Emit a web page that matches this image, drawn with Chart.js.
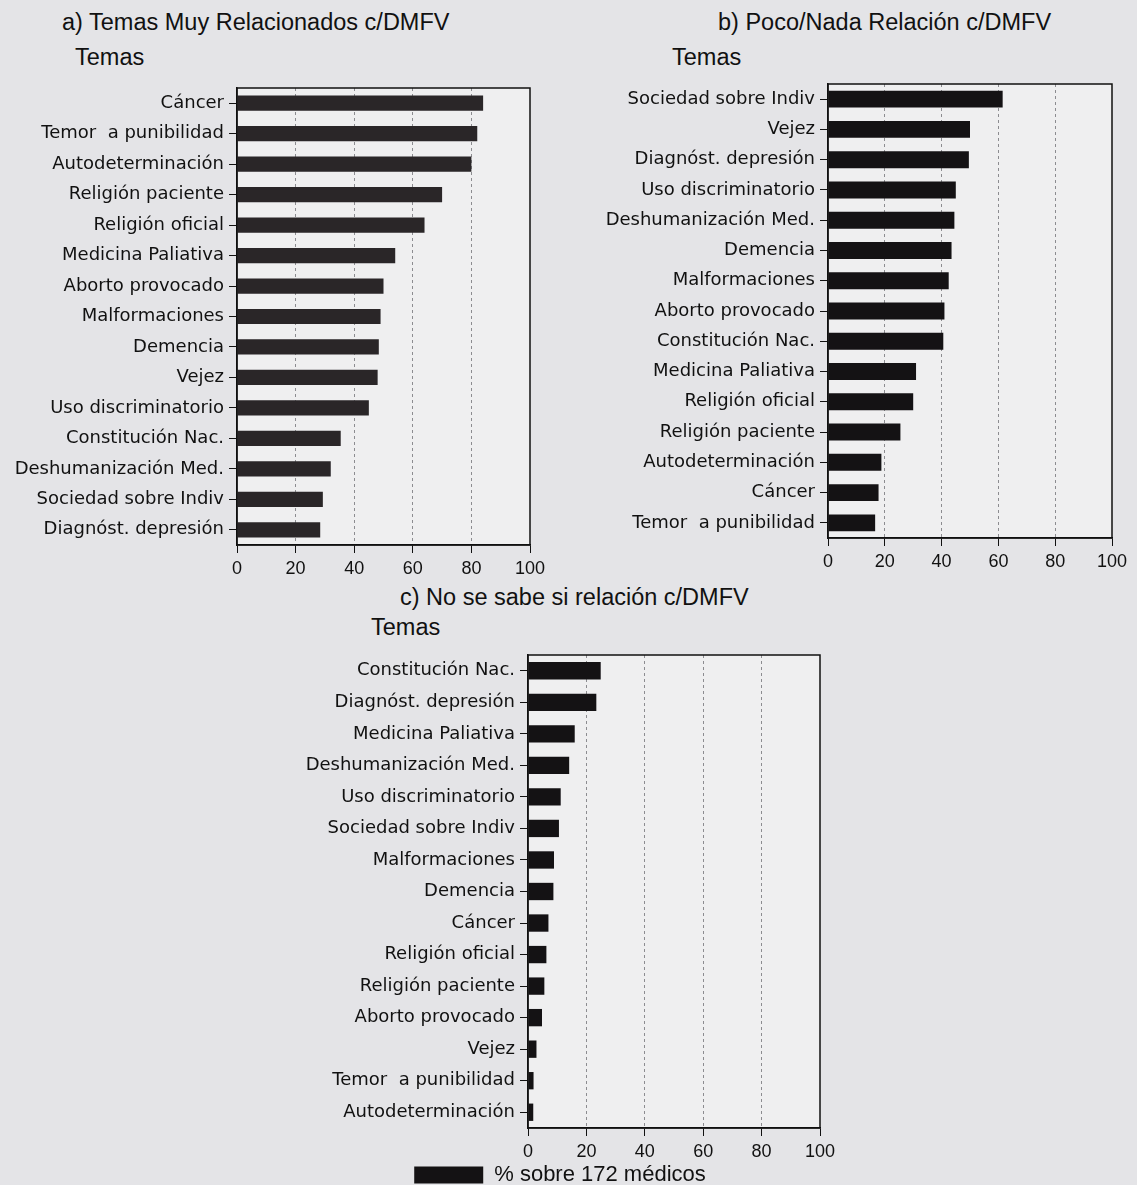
<!DOCTYPE html>
<html>
<head>
<meta charset="utf-8">
<script src="https://cdn.jsdelivr.net/npm/chart.js@4.4.1/dist/chart.umd.min.js"></script>
<style>
  body { margin: 0; background: #e4e4e7; width: 1137px; height: 1185px; position: relative; overflow: hidden; font-family: "Liberation Sans", Arial, sans-serif; color: #111; }
  canvas { position: absolute; }
  .txt { position: absolute; white-space: nowrap; font-size: 23.5px; line-height: 26px; }
</style>
</head>
<body>
<div class="txt" style="left:62px;top:9px;">a) Temas Muy Relacionados c/DMFV</div>
<div class="txt" style="left:75px;top:44px;">Temas</div>
<div class="txt" style="left:718px;top:9px;">b) Poco/Nada Relación c/DMFV</div>
<div class="txt" style="left:672px;top:44px;">Temas</div>
<div class="txt" style="left:400px;top:584px;">c) No se sabe si relación c/DMFV</div>
<div class="txt" style="left:371px;top:614px;">Temas</div>

<canvas id="chartA" width="560" height="590" style="left:0;top:0"></canvas>
<canvas id="chartB" width="557" height="590" style="left:580px;top:0"></canvas>
<canvas id="chartC" width="550" height="616" style="left:300px;top:580px"></canvas>

<script>
// a) temas muy relacionados
const temasA = ['Cáncer', 'Temor  a punibilidad', 'Autodeterminación', 'Religión paciente', 'Religión oficial',
  'Medicina Paliativa', 'Aborto provocado', 'Malformaciones', 'Demencia', 'Vejez',
  'Uso discriminatorio', 'Constitución Nac.', 'Deshumanización Med.', 'Sociedad sobre Indiv', 'Diagnóst. depresión'];
const valoresA = [84, 82, 80, 70, 64, 54, 50, 49, 48.4, 48, 45, 35.4, 32, 29.3, 28.4];

// b) poco / nada relación
const temasB = ['Sociedad sobre Indiv', 'Vejez', 'Diagnóst. depresión', 'Uso discriminatorio', 'Deshumanización Med.',
  'Demencia', 'Malformaciones', 'Aborto provocado', 'Constitución Nac.', 'Medicina Paliativa',
  'Religión oficial', 'Religión paciente', 'Autodeterminación', 'Cáncer', 'Temor  a punibilidad'];
const valoresB = [61.5, 50, 49.6, 45, 44.5, 43.5, 42.5, 41, 40.6, 31, 30, 25.5, 18.8, 17.8, 16.6];

// c) no se sabe
const temasC = ['Constitución Nac.', 'Diagnóst. depresión', 'Medicina Paliativa', 'Deshumanización Med.', 'Uso discriminatorio',
  'Sociedad sobre Indiv', 'Malformaciones', 'Demencia', 'Cáncer', 'Religión oficial',
  'Religión paciente', 'Aborto provocado', 'Vejez', 'Temor  a punibilidad', 'Autodeterminación'];
const valoresC = [24.9, 23.4, 16, 14.1, 11.2, 10.6, 8.9, 8.7, 7, 6.3, 5.6, 4.8, 2.9, 1.9, 1.8];

const ejeX = [0, 20, 40, 60, 80, 100];
const leyenda = '% sobre 172 médicos';

// marco del gráfico y fondo
const marco = {
  id: 'marco',
  beforeDraw(chart) {
    const a = chart.chartArea, ctx = chart.ctx;
    ctx.save();
    ctx.fillStyle = '#efeff0';
    ctx.fillRect(a.left, a.top, a.right - a.left, a.bottom - a.top);
    ctx.restore();
  },
  afterDraw(chart) {
    const a = chart.chartArea, ctx = chart.ctx;
    ctx.save();
    ctx.strokeStyle = '#111';
    ctx.lineWidth = 1.5;
    ctx.strokeRect(a.left, a.top, a.right - a.left, a.bottom - a.top);
    ctx.restore();
  }
};

function crearGrafico(id, temas, valores, o) {
  return new Chart(document.getElementById(id), {
    type: 'bar',
    data: {
      labels: temas,
      datasets: [{
        label: leyenda,
        data: valores,
        backgroundColor: o.color,
        borderWidth: 0,
        categoryPercentage: 1,
        barPercentage: o.grosor
      }]
    },
    options: {
      indexAxis: 'y',
      responsive: false,
      animation: false,
      layout: { padding: { top: o.arriba, right: o.derecha, left: 0, bottom: 0 } },
      plugins: {
        tooltip: { enabled: false },
        legend: {
          display: o.leyenda,
          position: 'bottom',
          labels: {
            boxWidth: 69,
            boxHeight: 17,
            padding: 4,
            color: '#111',
            font: { family: 'Liberation Sans', size: 22 }
          }
        }
      },
      scales: {
        x: {
          min: 0,
          max: 100,
          afterBuildTicks: s => { s.ticks = ejeX.map(v => ({ value: v })); },
          afterFit: s => { s.height = o.altoX; },
          ticks: { color: '#111', padding: 5, font: { family: 'Liberation Sans', size: 18 } },
          grid: {
            color: c => (c.tick && (c.tick.value === 0 || c.tick.value === 100)) ? 'rgba(0,0,0,0)' : '#8c8c90',
            tickColor: '#111',
            tickLength: 8,
            lineWidth: 1
          },
          border: { color: '#111', width: 1.5, dash: [3, 3] }
        },
        y: {
          afterFit: s => { s.width = o.anchoY; },
          ticks: { color: '#111', padding: 5, font: { family: 'DejaVu Sans', size: 18 } },
          grid: { offset: false, drawOnChartArea: false, color: '#111', tickLength: 8 },
          border: { color: '#111', width: 1.5 }
        }
      }
    },
    plugins: [marco]
  });
}

crearGrafico('chartA', temasA, valoresA, { color: '#2a2628', grosor: 0.5, arriba: 88, derecha: 30, anchoY: 237, altoX: 45, leyenda: false });
crearGrafico('chartB', temasB, valoresB, { color: '#141214', grosor: 0.56, arriba: 84, derecha: 25, anchoY: 248, altoX: 52, leyenda: false });
crearGrafico('chartC', temasC, valoresC, { color: '#141214', grosor: 0.55, arriba: 75, derecha: 30, anchoY: 228, altoX: 32, leyenda: true });
</script>
</body>
</html>
